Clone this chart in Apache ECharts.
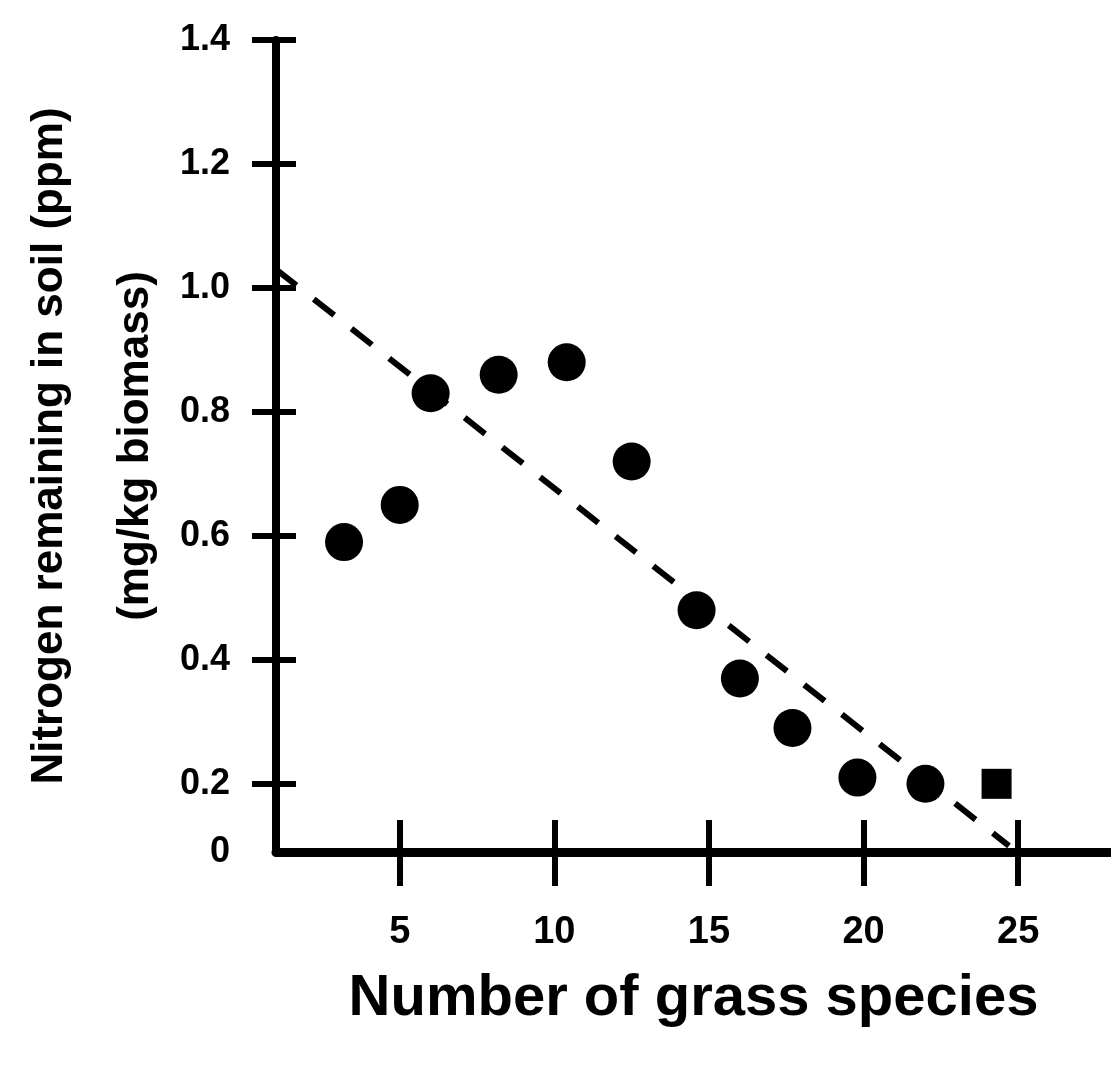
<!DOCTYPE html>
<html>
<head>
<meta charset="utf-8">
<script src="https://cdn.jsdelivr.net/npm/echarts@6/dist/echarts.min.js"></script>
<style>
html,body{margin:0;padding:0;background:#fff;}
#chart{width:1111px;height:1072px;}
</style>
</head>
<body>
<div id="chart"></div>
<script>
// ---- data ----
const grassSpecies = [3.2, 5, 6, 8.2, 10.4, 12.5, 14.6, 16, 17.7, 19.8, 22];
const nitrogen     = [0.59, 0.65, 0.83, 0.86, 0.88, 0.72, 0.48, 0.37, 0.29, 0.21, 0.20];
const squareX = [24.3];
const squareY = [0.20];
const trendX = [1, 24.7];
const trendY = [1.03, 0.10];
const xTickValues = [5, 10, 15, 20, 25];
const yTickValues = [0.2, 0.4, 0.6, 0.8, 1.0, 1.2, 1.4];
const yMin = 0.09, yMax = 1.4, xMin = 1, xMax = 28;
const xTitle = 'Number of grass species';
const yTitle1 = 'Nitrogen remaining in soil (ppm)';
const yTitle2 = '(mg/kg biomass)';

const FONT = '"Liberation Sans", Arial, sans-serif';
const chart = echarts.init(document.getElementById('chart'));

const pts = grassSpecies.map((x, i) => [x, nitrogen[i]]);
const sq = squareX.map((x, i) => [x, squareY[i]]);
const trend = trendX.map((x, i) => [x, trendY[i]]);

chart.setOption({
  animation: false,
  backgroundColor: '#ffffff',
  grid: {left: 276, right: 0, top: 40, bottom: 220, containLabel: false},
  xAxis: [{
    type: 'value', min: xMin, max: xMax,
    name: xTitle, nameLocation: 'middle', nameGap: 118,
    nameTextStyle: {fontFamily: FONT, fontWeight: 'bold', fontSize: 58, color: '#000'},
    axisLine: {show: true, lineStyle: {color: '#000', width: 9}},
    axisTick: {show: true, customValues: xTickValues, length: 34, inside: false, lineStyle: {color: '#000', width: 6}},
    axisLabel: {show: true, customValues: xTickValues, margin: 62, fontFamily: FONT, fontWeight: 'bold', fontSize: 38, color: '#000'},
    splitLine: {show: false}
  }, {
    type: 'value', min: xMin, max: xMax, position: 'bottom',
    axisLine: {show: false},
    axisTick: {show: true, customValues: xTickValues, length: 32, inside: true, lineStyle: {color: '#000', width: 6}},
    axisLabel: {show: false},
    splitLine: {show: false}
  }],
  yAxis: [{
    type: 'value', min: yMin, max: yMax,
    name: yTitle1, nameLocation: 'middle', nameGap: 204, nameRotate: 90,
    nameTextStyle: {fontFamily: FONT, fontWeight: 'bold', fontSize: 44, color: '#000'},
    axisLine: {show: true, lineStyle: {color: '#000', width: 8}},
    axisTick: {show: true, customValues: yTickValues, length: 24, inside: false, lineStyle: {color: '#000', width: 6}},
    axisLabel: {show: true, customValues: [yMin].concat(yTickValues), margin: 46,
      fontFamily: FONT, fontWeight: 'bold', fontSize: 36, color: '#000',
      formatter: v => (v < 0.15 ? '0' : v.toFixed(1))},
    splitLine: {show: false}
  }, {
    type: 'value', min: yMin, max: yMax, position: 'left',
    name: yTitle2, nameLocation: 'middle', nameGap: 118, nameRotate: 90,
    nameTextStyle: {fontFamily: FONT, fontWeight: 'bold', fontSize: 44, color: '#000'},
    axisLine: {show: false},
    axisTick: {show: true, customValues: yTickValues, length: 20, inside: true, lineStyle: {color: '#000', width: 6}},
    axisLabel: {show: false},
    splitLine: {show: false}
  }],
  series: [{
    type: 'line', data: trend, symbol: 'none', silent: true,
    lineStyle: {color: '#000', width: 6, type: [26, 22]}
  }, {
    type: 'scatter', data: pts, symbol: 'circle', symbolSize: 38,
    itemStyle: {color: '#000', opacity: 1}
  }, {
    type: 'scatter', data: sq, symbol: 'rect', symbolSize: 30,
    itemStyle: {color: '#000', opacity: 1}
  }]
});
</script>
</body>
</html>
